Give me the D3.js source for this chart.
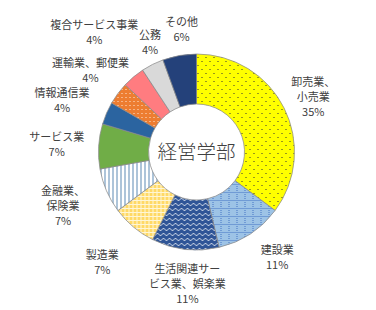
<!DOCTYPE html>
<html><head><meta charset="utf-8">
<script src="https://cdn.jsdelivr.net/npm/d3@7"></script>
<style>html,body{margin:0;padding:0;background:#fff;}svg{display:block;}</style>
</head><body>
<svg id="c" width="376" height="310"></svg>
<script>
// ---- data ----
const categories = ["卸売業、小売業","建設業","生活関連サービス業、娯楽業","製造業","金融業、保険業","サービス業","情報通信業","運輸業、郵便業","複合サービス事業","公務","その他"];
const values = [19, 6, 6, 4, 4, 4, 2, 2, 2, 2, 3];
const percentLabels = ["35%","11%","11%","7%","7%","7%","4%","4%","4%","4%","6%"];
const labelLines = [["卸売業、","小売業"],["建設業"],["生活関連サー","ビス業、娯楽業"],["製造業"],["金融業、","保険業"],["サービス業"],["情報通信業"],["運輸業、郵便業"],["複合サービス事業"],["公務"],["その他"]];
const centerTitle = "経営学部";

// ---- layout / style ----
const W = 376, H = 310, cx = 196.5, cy = 152, rOuter = 98, rInner = 48;
const labelDist = [129, 133, 132, 145, 144, 140, 144, 134, 157, 119, 123];
const labelAngleAdj = [1.5, -4, -2.7, 0.5, 1.3, -0.4, -2.3, 1, -0.6, 3.7, 3];
const fills = ["url(#pDots)","url(#pDotGrid)","url(#pWave)","url(#pGrid)","url(#pVert)","#70AD47","#2B64A0","url(#pOrange)","#FF7C80","#D9D9D9","#24417A"];

const svg = d3.select("#c");
const defs = svg.append("defs");
function pat(id, w, h){ return defs.append("pattern").attr("id",id).attr("patternUnits","userSpaceOnUse").attr("width",w).attr("height",h); }
// yellow with black dots
let p = pat("pDots",8,8);
p.append("rect").attr("width",8).attr("height",8).attr("fill","#FFFF00");
p.append("rect").attr("x",1).attr("y",1).attr("width",1).attr("height",1).attr("fill","#333");
p.append("rect").attr("x",5).attr("y",5).attr("width",1).attr("height",1).attr("fill","#333");
// light blue with dotted grid
p = pat("pDotGrid",8,8);
p.append("rect").attr("width",8).attr("height",8).attr("fill","#9DC3E6");
for(let i=0;i<8;i+=2){
  p.append("rect").attr("x",i).attr("y",0).attr("width",1).attr("height",1).attr("fill","#4472C4");
  if(i>0) p.append("rect").attr("x",0).attr("y",i).attr("width",1).attr("height",1).attr("fill","#4472C4");
}
// dark blue with white waves
p = pat("pWave",6,5);
p.append("rect").attr("width",6).attr("height",5).attr("fill","#2F5597");
p.append("path").attr("d","M0,3.6 C1,3.6 2,1.4 3,1.4 C4,1.4 5,3.6 6,3.6").attr("fill","none").attr("stroke","#fff").attr("stroke-width",0.9);
// yellow with white grid
p = pat("pGrid",4,4);
p.append("rect").attr("width",4).attr("height",4).attr("fill","#FFD966");
p.append("rect").attr("x",0).attr("y",0).attr("width",4).attr("height",1).attr("fill","#FFF6D5");
p.append("rect").attr("x",0).attr("y",0).attr("width",1).attr("height",4).attr("fill","#FFF6D5");
// white with blue vertical lines
p = pat("pVert",4,4);
p.append("rect").attr("width",4).attr("height",4).attr("fill","#fff");
p.append("rect").attr("x",0).attr("y",0).attr("width",1).attr("height",4).attr("fill","#5B88B2");
// orange with white dots
p = pat("pOrange",4,4);
p.append("rect").attr("width",4).attr("height",4).attr("fill","#ED7D31");
p.append("rect").attr("x",1).attr("y",1).attr("width",1).attr("height",1).attr("fill","#FFE8D8");

const pie = d3.pie().sort(null).value(d=>d).startAngle(0).endAngle(2*Math.PI);
const arcs = pie(values);
const arc = d3.arc().innerRadius(rInner).outerRadius(rOuter);

const g = svg.append("g").attr("transform",`translate(${cx},${cy})`);
g.selectAll("path.slice").data(arcs).join("path").attr("class","slice")
  .attr("d",arc).attr("fill",(d,i)=>fills[i])
  .attr("stroke","#8a8a8a").attr("stroke-width",0.75);

g.append("text").attr("x",0).attr("y",0).attr("dy","0.36em").attr("text-anchor","middle")
  .attr("font-family","'Noto Sans CJK JP', sans-serif").attr("font-size",19.5).attr("font-weight",300)
  .attr("fill","#404040").text(centerTitle);

const lh = 15;
arcs.forEach((d,i)=>{
  const a = (d.startAngle + d.endAngle)/2 + labelAngleAdj[i]*Math.PI/180;
  const x = Math.sin(a)*labelDist[i], y = -Math.cos(a)*labelDist[i];
  const lines = labelLines[i].concat([percentLabels[i]]);
  const y0 = y - (lines.length-1)*lh/2;
  const t = g.append("text").attr("text-anchor","middle")
    .attr("font-family","'Noto Sans CJK JP', sans-serif").attr("font-size",11).attr("fill","#404040");
  lines.forEach((s,k)=>{
    t.append("tspan").attr("x",x).attr("y",y0+k*lh).attr("dy","0.36em").text(s);
  });
});
</script>
</body></html>
